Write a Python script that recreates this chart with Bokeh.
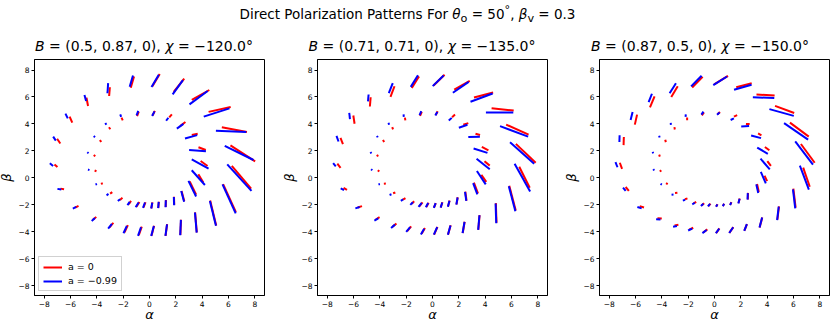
import numpy as np
from bokeh.plotting import figure
from bokeh.models import ColumnDataSource, Div, Legend, LegendItem, FixedTicker, Range1d
from bokeh.layouts import row, column
from bokeh.embed import file_html
from bokeh.resources import INLINE

# ---------------- data ----------------
SUPTITLE = ("Direct Polarization Patterns For <i>&theta;</i><sub>o</sub> = 50<sup>&deg;</sup>"
            ", <i>&beta;</i><sub>v</sub> = 0.3")
TITLES = ["<i>B</i> = (0.5, 0.87, 0), <i>\u03c7</i> = \u2212120.0\u00b0",
          "<i>B</i> = (0.71, 0.71, 0), <i>\u03c7</i> = \u2212135.0\u00b0",
          "<i>B</i> = (0.87, 0.5, 0), <i>\u03c7</i> = \u2212150.0\u00b0"]
SERIES = ["a = 0", "a = \u22120.99"]
TICKS = [-8, -6, -4, -2, 0, 2, 4, 6, 8]

# image positions (same for every panel)
OUTER_BLUE_X = [0.23, 1.27, 2.36, 3.52, 4.82, 6.05, 6.83, 6.81, 6.20, 5.10, 3.73, 2.15, 0.43, -1.38, -3.17, -4.88, -6.30, -7.22, -7.45, -6.85, -5.70, -4.27, -3.00, -1.85, -0.76]
OUTER_BLUE_Y = [-3.93, -3.87, -3.68, -3.31, -2.63, -1.55, 0.02, 1.85, 3.45, 4.85, 5.95, 6.72, 7.20, 7.18, 6.65, 5.93, 4.59, 2.91, 0.98, -0.84, -2.21, -3.08, -3.59, -3.83, -3.98]
OUTER_RED_X = [0.25, 1.28, 2.37, 3.53, 4.84, 6.08, 6.99, 7.09, 6.45, 5.33, 3.88, 2.24, 0.50, -1.30, -3.04, -4.73, -5.97, -6.90, -7.11, -6.63, -5.52, -4.17, -2.89, -1.77, -0.70]
OUTER_RED_Y = [-3.92, -3.86, -3.67, -3.30, -2.60, -1.50, 0.05, 1.82, 3.58, 5.08, 6.15, 6.87, 7.25, 7.10, 6.40, 5.64, 4.32, 2.73, 0.90, -0.82, -2.14, -3.00, -3.50, -3.77, -3.93]
INNER_BLUE_X = [0.17, 0.68, 1.23, 1.86, 2.52, 3.25, 3.71, 3.85, 3.65, 3.16, 2.33, 1.35, 0.29, -0.92, -2.19, -3.32, -4.19, -4.68, -4.62, -4.05, -3.19, -2.32, -1.59, -0.94, -0.42]
INNER_BLUE_Y = [-2.05, -2.01, -1.92, -1.72, -1.37, -0.80, 0.02, 1.03, 2.02, 3.05, 3.83, 4.35, 4.76, 4.80, 4.62, 4.01, 3.06, 1.87, 0.60, -0.47, -1.24, -1.65, -1.90, -2.00, -2.02]
INNER_RED_X = [0.18, 0.69, 1.24, 1.87, 2.54, 3.30, 3.90, 4.15, 4.00, 3.44, 2.53, 1.60, 0.32, -0.88, -2.08, -3.03, -3.72, -4.18, -4.10, -3.62, -2.91, -2.15, -1.49, -0.88, -0.38]
INNER_RED_Y = [-2.04, -2.00, -1.90, -1.70, -1.35, -0.75, -0.04, 1.07, 2.17, 3.23, 4.00, 4.60, 4.80, 4.75, 4.37, 3.68, 2.74, 1.65, 0.52, -0.42, -1.11, -1.55, -1.83, -1.96, -2.00]

# polarization angle (deg) and tick length, panel 1
P1_OUTER_BLUE_ANG = [75, 82, 87.5, 95, 104, 115, 133, 154.5, 178, 17.5, 35.6, 53.6, 58.8, 73.4, 86, 106, 117, 124, 141, 170, 26, 41.6, 51, 65, 70.6]
P1_OUTER_BLUE_LEN = [0.77, 0.87, 1.14, 1.49, 1.90, 2.37, 2.70, 2.42, 2.31, 2.05, 1.70, 1.32, 1.07, 0.87, 0.75, 0.46, 0.39, 0.36, 0.32, 0.30, 0.28, 0.33, 0.45, 0.60, 0.68]
P1_OUTER_RED_ANG = [75, 82, 87.5, 95, 104, 115, 131, 147.7, 169.6, 12.4, 29, 51, 58.8, 73.4, 85, 101, 114, 125, 139, 170, 26, 41.6, 51, 65, 70.6]
P1_OUTER_RED_LEN = [0.77, 0.87, 1.14, 1.49, 1.90, 2.30, 2.24, 2.22, 1.94, 1.72, 1.52, 1.27, 1.07, 0.87, 0.65, 0.63, 0.49, 0.43, 0.30, 0.28, 0.28, 0.33, 0.45, 0.60, 0.68]
P1_INNER_BLUE_ANG = [80, 85, 88, 92, 105, 116.5, 132.5, 151.7, 175.5, 15, 35, 53, 63, 69, 110, 120, 135, 140, 160, 20, 35, 40, 55, 57, 69]
P1_INNER_BLUE_LEN = [0.45, 0.47, 0.52, 0.62, 0.84, 1.30, 1.48, 1.45, 1.28, 0.96, 0.61, 0.28, 0.39, 0.35, 0.20, 0.15, 0.13, 0.12, 0.12, 0.12, 0.18, 0.22, 0.30, 0.41, 0.42]
P1_INNER_RED_ANG = [80, 85, 88, 92, 105, 116.5, 121.5, 145, 160, 12.5, 36.6, 48, 63, 69, 115, 125, 130, 140, 160, 20, 35, 40, 55, 57, 69]
P1_INNER_RED_LEN = [0.45, 0.47, 0.52, 0.60, 0.80, 1.10, 0.72, 0.64, 0.59, 0.46, 0.50, 0.30, 0.39, 0.35, 0.22, 0.18, 0.18, 0.15, 0.15, 0.15, 0.20, 0.25, 0.30, 0.41, 0.42]

# panel 2
P2_OUTER_BLUE_ANG = [66, 74, 80, 85, 92, 105, 120, 139, 160, 0, 20, 34, 43.6, 57.5, 68, 85, 97, 110, 129, 154, 17, 30, 40, 49, 59]
P2_OUTER_BLUE_LEN = [0.62, 0.72, 0.85, 1.09, 1.46, 1.92, 2.36, 2.43, 2.27, 2.08, 1.79, 1.45, 1.15, 1.02, 0.80, 0.51, 0.45, 0.45, 0.32, 0.28, 0.34, 0.34, 0.39, 0.46, 0.49]
P2_OUTER_RED_ANG = [66, 74, 80, 85, 92, 105, 117, 137, 156.5, 174, 14, 28.5, 43.6, 57.5, 69, 85, 99, 112, 128, 150, 17, 30, 40, 49, 59]
P2_OUTER_RED_LEN = [0.62, 0.72, 0.85, 1.09, 1.46, 1.90, 1.75, 2.06, 1.86, 1.69, 1.50, 1.34, 1.15, 1.02, 0.85, 0.69, 0.62, 0.50, 0.40, 0.30, 0.34, 0.34, 0.39, 0.46, 0.49]
P2_INNER_BLUE_ANG = [68, 72, 75, 80, 98, 111, 124, 142, 163, 1, 19, 42, 61, 66, 95, 105, 115, 120, 140, 5, 20, 30, 45, 50, 60]
P2_INNER_BLUE_LEN = [0.37, 0.40, 0.45, 0.54, 0.67, 0.90, 1.20, 1.27, 1.10, 0.88, 0.69, 0.30, 0.31, 0.33, 0.18, 0.15, 0.13, 0.12, 0.12, 0.12, 0.15, 0.20, 0.28, 0.38, 0.35]
P2_INNER_RED_ANG = [68, 72, 75, 80, 98, 111, 126, 141, 153, 164, 18, 42, 61, 66, 100, 110, 115, 120, 140, 5, 20, 30, 45, 50, 60]
P2_INNER_RED_LEN = [0.37, 0.40, 0.45, 0.54, 0.67, 0.85, 0.64, 0.51, 0.56, 0.36, 0.40, 0.30, 0.31, 0.33, 0.20, 0.18, 0.18, 0.15, 0.15, 0.15, 0.18, 0.22, 0.28, 0.38, 0.35]

# panel 3
P3_OUTER_BLUE_ANG = [54, 54.5, 68, 75, 83, 97, 111, 128, 146, 165, 178, 15.5, 31.5, 44.6, 57, 68, 76, 88, 112, 129, 163, 178, 10, 25, 36]
P3_OUTER_BLUE_LEN = [0.43, 0.52, 0.53, 0.77, 1.00, 1.42, 1.91, 2.19, 2.20, 1.92, 1.63, 1.38, 1.23, 1.12, 0.88, 0.67, 0.61, 0.50, 0.41, 0.32, 0.34, 0.33, 0.30, 0.34, 0.39]
P3_OUTER_RED_ANG = [54, 54.5, 68, 75, 83, 97, 109.5, 127, 144, 160, 177, 14, 31.5, 44.6, 58, 67, 77, 88, 111, 130, 163, 178, 10, 25, 36]
P3_OUTER_RED_LEN = [0.43, 0.52, 0.53, 0.77, 1.00, 1.42, 1.50, 1.74, 1.77, 1.55, 1.38, 1.21, 1.23, 1.12, 0.93, 0.89, 0.76, 0.60, 0.48, 0.38, 0.34, 0.33, 0.30, 0.34, 0.39]
P3_INNER_BLUE_ANG = [60, 62, 65, 75, 88, 103, 114, 131.5, 150, 165, 2, 25, 40, 55, 85, 95, 105, 110, 125, 150, 5, 20, 30, 40, 50]
P3_INNER_BLUE_LEN = [0.20, 0.20, 0.22, 0.35, 0.48, 0.66, 0.92, 1.06, 0.93, 0.78, 0.60, 0.27, 0.26, 0.27, 0.18, 0.15, 0.13, 0.12, 0.12, 0.12, 0.15, 0.18, 0.23, 0.25, 0.25]
P3_INNER_RED_ANG = [60, 62, 65, 75, 88, 103, 116, 128, 144, 150, 178, 25, 40, 55, 90, 100, 105, 110, 125, 150, 5, 20, 30, 40, 50]
P3_INNER_RED_LEN = [0.20, 0.20, 0.22, 0.35, 0.48, 0.60, 0.45, 0.44, 0.42, 0.29, 0.28, 0.27, 0.26, 0.27, 0.20, 0.18, 0.18, 0.15, 0.15, 0.15, 0.18, 0.20, 0.23, 0.25, 0.25]

PANELS = [
    dict(ob=(P1_OUTER_BLUE_ANG, P1_OUTER_BLUE_LEN), orr=(P1_OUTER_RED_ANG, P1_OUTER_RED_LEN),
         ib=(P1_INNER_BLUE_ANG, P1_INNER_BLUE_LEN), ir=(P1_INNER_RED_ANG, P1_INNER_RED_LEN)),
    dict(ob=(P2_OUTER_BLUE_ANG, P2_OUTER_BLUE_LEN), orr=(P2_OUTER_RED_ANG, P2_OUTER_RED_LEN),
         ib=(P2_INNER_BLUE_ANG, P2_INNER_BLUE_LEN), ir=(P2_INNER_RED_ANG, P2_INNER_RED_LEN)),
    dict(ob=(P3_OUTER_BLUE_ANG, P3_OUTER_BLUE_LEN), orr=(P3_OUTER_RED_ANG, P3_OUTER_RED_LEN),
         ib=(P3_INNER_BLUE_ANG, P3_INNER_BLUE_LEN), ir=(P3_INNER_RED_ANG, P3_INNER_RED_LEN)),
]

FONT = "DejaVu Sans"
RED = "#ff0000"
BLUE = "#0000ff"
X_LIM = (-8.74, 8.74)
Y_LIM = (-8.72, 8.78)
FRAME_W, FRAME_H = 232, 236
LEFT_B = 32
RIGHT_B = [14, 14, 2]


def seg_source(xs, ys, angs, lens):
    x = np.concatenate([np.asarray(v, float) for v in xs])
    y = np.concatenate([np.asarray(v, float) for v in ys])
    t = np.deg2rad(np.concatenate([np.asarray(v, float) for v in angs]))
    h = np.concatenate([np.asarray(v, float) for v in lens]) / 2.0
    return ColumnDataSource(dict(x0=x - h * np.cos(t), y0=y - h * np.sin(t),
                                 x1=x + h * np.cos(t), y1=y + h * np.sin(t)))


def make_panel(i):
    d = PANELS[i]
    p = figure(title=None, frame_width=FRAME_W, frame_height=FRAME_H,
               x_range=Range1d(*X_LIM), y_range=Range1d(*Y_LIM),
               output_backend="svg", toolbar_location=None,
               min_border_left=28, min_border_right=RIGHT_B[i],
               min_border_top=3, min_border_bottom=0, margin=0)
    p.grid.visible = False
    p.outline_line_color = "black"
    p.outline_line_width = 1
    p.background_fill_color = "white"
    p.border_fill_color = "white"
    for ax, lab in ((p.xaxis[0], "\u03b1"), (p.yaxis[0], "\u03b2")):
        ax.ticker = FixedTicker(ticks=TICKS)
        ax.major_label_overrides = {t: str(t).replace("-", "\u2212") for t in TICKS}
        ax.major_label_text_font = FONT
        ax.major_label_text_font_size = "7.5px"
        ax.major_label_text_color = "black"
        ax.major_label_standoff = 2
        ax.major_tick_out = 3
        ax.major_tick_in = 0
        ax.minor_tick_out = 0
        ax.minor_tick_in = 0
        ax.axis_line_color = "black"
        ax.major_tick_line_color = "black"
        ax.axis_label = lab
        ax.axis_label_text_font = FONT
        ax.axis_label_text_font_size = "13px"
        ax.axis_label_text_font_style = "italic"
        ax.axis_label_text_color = "black"
        ax.axis_label_standoff = 1
    p.xaxis[0].axis_label_standoff = -3

    src_r = seg_source([OUTER_RED_X, INNER_RED_X], [OUTER_RED_Y, INNER_RED_Y],
                       [d["orr"][0], d["ir"][0]], [d["orr"][1], d["ir"][1]])
    src_b = seg_source([OUTER_BLUE_X, INNER_BLUE_X], [OUTER_BLUE_Y, INNER_BLUE_Y],
                       [d["ob"][0], d["ib"][0]], [d["ob"][1], d["ib"][1]])
    rr = p.segment("x0", "y0", "x1", "y1", source=src_r, line_color=RED, line_width=2)
    rb = p.segment("x0", "y0", "x1", "y1", source=src_b, line_color=BLUE, line_width=2)
    if i == 0:
        leg = Legend(items=[LegendItem(label=SERIES[0], renderers=[rr]),
                            LegendItem(label=SERIES[1], renderers=[rb])],
                     location="bottom_left")
        leg.label_text_font = FONT
        leg.label_text_font_size = "9.5px"
        leg.label_text_color = "black"
        leg.glyph_width = 19
        leg.glyph_height = 10
        leg.label_height = 10
        leg.label_standoff = 6
        leg.spacing = 3
        leg.padding = 4
        leg.margin = 4
        leg.border_line_color = "#cccccc"
        leg.border_line_alpha = 0.9
        leg.background_fill_alpha = 0.8
        p.add_layout(leg)
    return p


def title_div(i):
    w = LEFT_B + FRAME_W + RIGHT_B[i]
    inner = ('<div style="margin:0 0 0 %dpx;padding:0;width:%dpx;height:31px;display:flex;'
             'justify-content:center;align-items:flex-start;font-family:\'DejaVu Sans\';'
             'font-size:14px;line-height:42px;color:black">'
             '<span style="white-space:nowrap">%s</span></div>' % (LEFT_B, FRAME_W, TITLES[i]))
    return Div(text=inner, width=w, height=31, margin=0)


plots = [make_panel(i) for i in range(3)]
titles = [title_div(i) for i in range(3)]
head = Div(text=SUPTITLE, width=815, height=25, margin=0,
           styles={"text-align": "center", "font-family": FONT, "font-size": "13.5px",
                   "width": "815px", "line-height": "20px", "color": "black"})
layout = column(head,
                row(*titles, margin=(0, 0, 0, -4)),
                row(*plots, margin=(0, 0, 0, -4)),
                margin=0)

open("out.html", "w").write(file_html(layout, INLINE))
